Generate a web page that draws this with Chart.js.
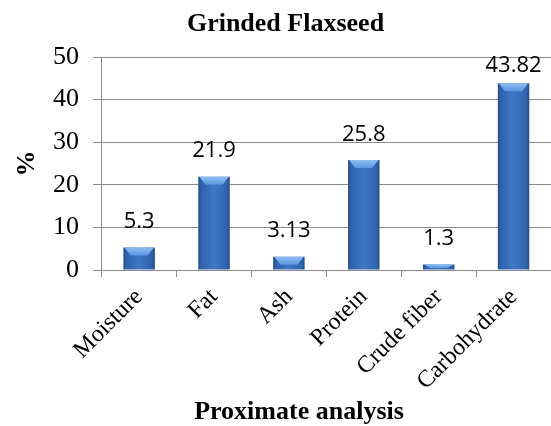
<!DOCTYPE html>
<html lang="en">
<head>
  <meta charset="UTF-8" />
  <title>Grinded Flaxseed</title>
  <script src="https://cdn.jsdelivr.net/npm/chart.js"></script>
  <style>
    html, body { margin: 0; padding: 0; background: #fff; }
    #wrap { width: 551px; height: 426px; }
  </style>
</head>
<body>
  <div id="wrap"><canvas id="chart" width="551" height="426"></canvas></div>

  <script>
    const categories = ['Moisture', 'Fat', 'Ash', 'Protein', 'Crude fiber', 'Carbohydrate'];
    const values = [5.3, 21.9, 3.13, 25.8, 1.3, 43.82];
    const valueLabels = ['5.3', '21.9', '3.13', '25.8', '1.3', '43.82'];
    const yTicks = [0, 10, 20, 30, 40, 50];

    const serif = '"Liberation Serif", "Times New Roman", serif';
    const gridGray = '#8a8a8a';
    const barPct = 0.42;

    function barFill(ctx) {
      const chart = ctx.chart;
      const xs = chart.scales.x;
      if (!xs || !chart.chartArea) return '#3a6dbd';
      const cx = xs.getPixelForValue(ctx.dataIndex);
      const half = xs.width / categories.length * barPct / 2;
      const g = chart.ctx.createLinearGradient(cx - half, 0, cx + half, 0);
      g.addColorStop(0, '#214c88');
      g.addColorStop(0.1, '#3163ad');
      g.addColorStop(0.5, '#3f77c6');
      g.addColorStop(0.9, '#3163ad');
      g.addColorStop(1, '#214c88');
      return g;
    }

    // light bevel on the bar tops
    const bevel = {
      id: 'bevel',
      afterDatasetsDraw(chart) {
        const c = chart.ctx;
        const area = chart.chartArea;
        c.save();
        c.beginPath();
        c.rect(area.left, area.top, area.right - area.left, area.bottom - area.top);
        c.clip();
        chart.getDatasetMeta(0).data.forEach(el => {
          const w = el.width;
          const h = Math.min(8, (el.base - el.y) * 0.7);
          const g = c.createLinearGradient(0, el.y, 0, el.y + h);
          g.addColorStop(0, '#8dbdf3');
          g.addColorStop(1, '#5b95df');
          c.fillStyle = g;
          c.beginPath();
          c.moveTo(el.x - w / 2 + 1, el.y);
          c.lineTo(el.x + w / 2 - 1, el.y);
          c.lineTo(el.x + w * 0.27, el.y + h);
          c.lineTo(el.x - w * 0.27, el.y + h);
          c.closePath();
          c.fill();
        });
        c.restore();
      }
    };

    // value labels above bars, kept inside the plot like Excel does
    const valueText = {
      id: 'valueText',
      afterDatasetsDraw(chart) {
        const c = chart.ctx;
        const top = chart.chartArea.top;
        c.save();
        c.font = '22px "Open Sans", "Noto Sans", sans-serif';
        c.fillStyle = '#000';
        c.textAlign = 'center';
        c.textBaseline = 'alphabetic';
        chart.getDatasetMeta(0).data.forEach((el, i) => {
          const y = Math.max(el.y - 19.5, top + 15);
          c.fillText(valueLabels[i], el.x, y);
        });
        c.restore();
      }
    };

    // x axis title (Excel places it off the plot centre)
    const xTitle = {
      id: 'xTitle',
      afterDraw(chart) {
        const c = chart.ctx;
        c.save();
        c.font = 'bold 26px ' + serif;
        c.fillStyle = '#000';
        c.textAlign = 'center';
        c.textBaseline = 'alphabetic';
        c.fillText('Proximate analysis', 299, 419);
        c.restore();
      }
    };

    new Chart(document.getElementById('chart'), {
      type: 'bar',
      data: {
        labels: categories,
        datasets: [{
          data: values,
          backgroundColor: barFill,
          borderWidth: 0,
          barPercentage: barPct,
          categoryPercentage: 1
        }]
      },
      options: {
        responsive: false,
        animation: false,
        layout: { padding: { left: 11, right: -9, top: 0, bottom: 0 } },
        plugins: {
          legend: { display: false },
          tooltip: { enabled: false },
          title: {
            display: true,
            text: 'Grinded Flaxseed',
            color: '#000',
            font: { family: serif, size: 26, weight: 'bold' },
            padding: { top: 8.4, bottom: 17.4 }
          }
        },
        scales: {
          x: {
            afterFit: s => { s.height = 156; },
            grid: {
              display: true,
              drawOnChartArea: false,
              drawTicks: true,
              tickLength: 7,
              color: gridGray,
              offset: true
            },
            border: { color: gridGray, width: 1 },
            ticks: {
              color: '#000',
              font: { family: serif, size: 24 },
              minRotation: 45,
              maxRotation: 45,
              autoSkip: false,
              padding: 6
            }
          },
          y: {
            min: 0,
            max: 50,
            afterFit: s => { s.width = 90.7; },
            afterBuildTicks: s => { s.ticks = yTicks.map(v => ({ value: v })); },
            grid: { color: gridGray, tickLength: 8.7, lineWidth: 1 },
            border: { color: gridGray, width: 1 },
            ticks: {
              color: '#000',
              font: { family: serif, size: 26 },
              padding: 14
            },
            title: {
              display: true,
              text: '%',
              color: '#000',
              font: { family: serif, size: 26, weight: 'bold' },
              padding: { top: 1, bottom: 0 }
            }
          }
        }
      },
      plugins: [bevel, valueText, xTitle]
    });
  </script>
</body>
</html>
